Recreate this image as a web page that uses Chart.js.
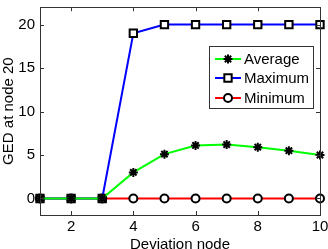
<!DOCTYPE html>
<html>
<head>
<meta charset="utf-8">
<script src="https://cdn.jsdelivr.net/npm/chart.js@4/dist/chart.umd.min.js"></script>
<style>
  html, body { margin: 0; padding: 0; background: #fff; }
  #wrap { width: 328px; height: 249px; }
</style>
</head>
<body>
<div id="wrap"><canvas id="chart" width="328" height="249"></canvas></div>
<script>
// data
const nodes = [1, 2, 3, 4, 5, 6, 7, 8, 9, 10];
const averageGED = [0, 0, 0, 3.0, 5.1, 6.1, 6.2, 5.9, 5.5, 5.0];
const maximumGED = [0, 0, 0, 19, 20, 20, 20, 20, 20, 20];
const minimumGED = [0, 0, 0, 0, 0, 0, 0, 0, 0, 0];
const xTicks = [2, 4, 6, 8, 10];
const yTicks = [0, 5, 10, 15, 20];

const FONT = "Liberation Sans, Arial, Helvetica, sans-serif";
const AXIS = "#333";

function toPoints(vals) {
  return nodes.map((x, i) => ({ x: x, y: vals[i] }));
}

// no extra room for half tick labels
function noPad(s) {
  s.paddingTop = 0;
  s.paddingBottom = 0;
  s.paddingLeft = 0;
  s.paddingRight = 0;
}

// matlab style box + inward ticks
const boxTicks = {
  id: "boxTicks",
  afterDraw(chart) {
    const { ctx, chartArea: a, scales } = chart;
    ctx.save();
    ctx.strokeStyle = AXIS;
    ctx.lineWidth = 1;
    ctx.beginPath();
    xTicks.forEach((v) => {
      const px = Math.round(scales.x.getPixelForValue(v)) + 0.5;
      ctx.moveTo(px, a.bottom); ctx.lineTo(px, a.bottom - 4);
      ctx.moveTo(px, a.top); ctx.lineTo(px, a.top + 4);
    });
    yTicks.forEach((v) => {
      const py = Math.round(scales.y.getPixelForValue(v)) + 0.5;
      ctx.moveTo(a.left, py); ctx.lineTo(a.left + 4, py);
      ctx.moveTo(a.right, py); ctx.lineTo(a.right - 4, py);
    });
    ctx.stroke();
    ctx.strokeRect(Math.round(a.left) + 0.5, Math.round(a.top) + 0.5,
      Math.round(a.right - a.left), Math.round(a.bottom - a.top));
    ctx.restore();
  },
};

// legend box inside the plot
const boxLegend = {
  id: "boxLegend",
  afterDraw(chart) {
    const { ctx } = chart;
    const x0 = 209, y0 = 46, w = 104, h = 62;
    ctx.save();
    ctx.fillStyle = "#fff";
    ctx.fillRect(x0, y0, w, h);
    ctx.strokeStyle = AXIS;
    ctx.lineWidth = 1;
    ctx.strokeRect(x0 + 0.5, y0 + 0.5, w, h);
    const rows = [59, 78, 98];
    chart.data.datasets.forEach((ds, i) => {
      const y = rows[i];
      ctx.strokeStyle = ds.borderColor;
      ctx.lineWidth = 2;
      ctx.beginPath();
      ctx.moveTo(215, y); ctx.lineTo(241, y);
      ctx.stroke();
      ctx.fillStyle = ds.pointBackgroundColor;
      ctx.strokeStyle = ds.pointBorderColor;
      ctx.lineWidth = ds.pointBorderWidth;
      ctx.beginPath();
      if (ds.pointStyle === "circle") {
        ctx.arc(228, y, ds.pointRadius, 0, Math.PI * 2);
        ctx.fill(); ctx.stroke();
      } else if (ds.pointStyle === "rect") {
        const s = ds.pointRadius * Math.SQRT1_2;
        ctx.rect(228 - s, y - s, 2 * s, 2 * s);
        ctx.fill(); ctx.stroke();
      } else {
        Chart.helpers.drawPoint(ctx, { pointStyle: "star", radius: ds.pointRadius, rotation: 0, borderWidth: 2 }, 228, y);
      }
      ctx.fillStyle = "#000";
      ctx.font = "15px " + FONT;
      ctx.textBaseline = "middle";
      ctx.fillText(ds.label, 244, y + 1);
    });
    ctx.restore();
  },
};

new Chart(document.getElementById("chart").getContext("2d"), {
  type: "line",
  data: {
    datasets: [
      {
        label: "Average",
        data: toPoints(averageGED),
        borderColor: "#00ff00",
        borderWidth: 2,
        pointStyle: "star",
        pointRadius: 4.5,
        pointBorderWidth: 2,
        pointBorderColor: "#000",
        pointBackgroundColor: "#000",
        clip: false,
      },
      {
        label: "Maximum",
        data: toPoints(maximumGED),
        borderColor: "#0000ff",
        borderWidth: 2,
        pointStyle: "rect",
        pointRadius: 5.2,
        pointBorderWidth: 2,
        pointBorderColor: "#000",
        pointBackgroundColor: "#fff",
        clip: false,
      },
      {
        label: "Minimum",
        data: toPoints(minimumGED),
        borderColor: "#ff0000",
        borderWidth: 2,
        pointStyle: "circle",
        pointRadius: 4,
        pointBorderWidth: 2,
        pointBorderColor: "#000",
        pointBackgroundColor: "#fff",
        clip: false,
      },
    ],
  },
  options: {
    responsive: false,
    animation: false,
    layout: { padding: { top: 1, right: 8, left: 0, bottom: 0 } },
    plugins: { legend: { display: false }, tooltip: { enabled: false } },
    elements: { line: { tension: 0 } },
    scales: {
      x: {
        type: "linear",
        min: 1,
        max: 10,
        afterFit: (s) => { s.height = 34; noPad(s); },
        afterBuildTicks: (s) => { s.ticks = xTicks.map((v) => ({ value: v })); },
        grid: { display: false, drawTicks: false },
        border: { display: false },
        ticks: { padding: 3, color: "#000", font: { family: FONT, size: 15 } },
        title: { display: true, text: "Deviation node", color: "#000", padding: { top: 0, bottom: -3 }, font: { family: FONT, size: 15, lineHeight: 1 } },
      },
      y: {
        min: -1.9,
        max: 22,
        afterFit: (s) => { s.width = 40; noPad(s); },
        afterBuildTicks: (s) => { s.ticks = yTicks.map((v) => ({ value: v })); },
        grid: { display: false, drawTicks: false },
        border: { display: false },
        ticks: { padding: 5, color: "#000", font: { family: FONT, size: 15 } },
        title: { display: true, text: "GED at node 20", color: "#000", padding: { top: 0, bottom: 0 }, font: { family: FONT, size: 15 } },
      },
    },
  },
  plugins: [boxTicks, boxLegend],
});
</script>
</body>
</html>
